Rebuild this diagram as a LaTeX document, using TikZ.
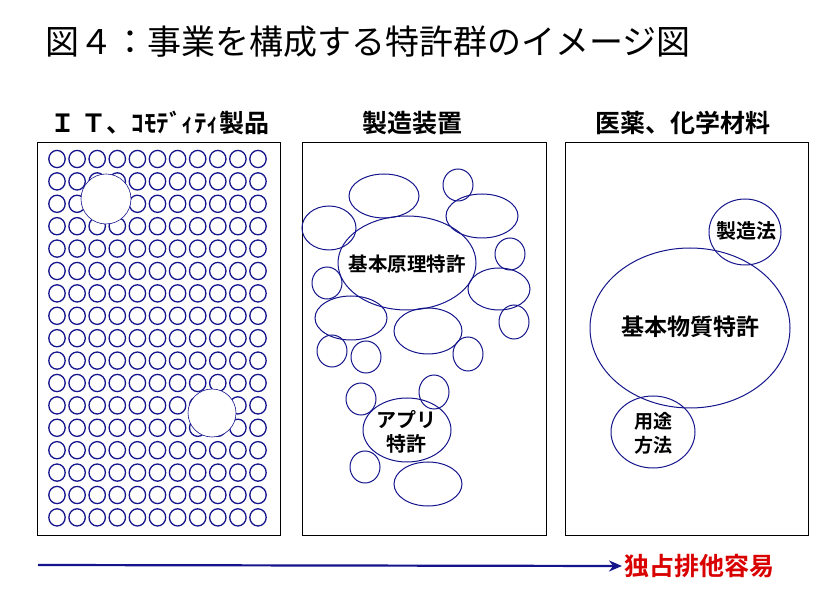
\documentclass[tikz,border=0pt]{standalone}
\usepackage{fontspec}
\usetikzlibrary{arrows.meta}
\setmainfont{Noto Sans CJK JP}[BoldFont={Noto Sans CJK JP Bold}]
\definecolor{nv}{RGB}{20,20,140}
\begin{document}
\begin{tikzpicture}[x=1pt,y=-1pt,
  pat/.style={draw=nv,line width=1pt},
  box/.style={draw=black,line width=0.8pt},
  lab/.style={font=\bfseries\fontsize{19.5}{22}\selectfont,align=center},
  hdr/.style={font=\bfseries\fontsize{25}{27}\selectfont}]
\useasboundingbox (0,0) rectangle (825,601);
\node[anchor=west,font=\fontsize{34}{36}\selectfont,inner sep=0pt] (title) at (45,42) {図４：事業を構成する特許群のイメージ図};
\node[hdr] (h1) at (160,123) {Ｉ Ｔ、ｺﾓﾃﾞｨﾃｨ製品};
\node[hdr] (h2) at (412,123) {製造装置};
\node[hdr] (h3) at (683,123) {医薬、化学材料};
\draw[box] (37,142) rectangle (280,535);
\draw[box] (302,142) rectangle (546,535);
\draw[box] (565,142) rectangle (808,535);
% left grid
\foreach \i in {0,...,10}{\foreach \j in {0,...,16}{
  \draw[pat,line width=1.3pt] (57+20.1*\i,159+22.4*\j) ellipse [x radius=8.2pt,y radius=8.6pt];}}
\draw[fill=white,draw=nv,line width=0.6pt] (106,199) circle [radius=25pt];
\draw[fill=white,draw=nv,line width=0.6pt] (212,413) circle [radius=24pt];
% middle
\foreach \x/\y/\a/\b in {384/196/35/22, 458/185/15/16, 482/216/36/22, 329/228/27/22,
  510/254/15/16, 327/283/15/16, 499/289/31/21, 351/318/36/22, 428/331/34/23, 514/322/15/17,
  332/351/15/16, 366/357/15/16, 468/354/15/17, 361/399/15/16, 434/392/15/17, 365/467/15/16, 428/484/34/22}{
  \draw[pat] (\x,\y) ellipse [x radius=\a pt,y radius=\b pt];}
\draw[pat] (407,263) ellipse [x radius=69pt,y radius=47pt];
\node[lab] (basic) at (407,264) {基本原理特許};
\draw[pat] (407,430) ellipse [x radius=44pt,y radius=32pt];
\node[lab,font=\bfseries\fontsize{20}{24}\selectfont] (app) at (406,432) {アプリ\\特許};
% right
\draw[pat] (690,328) ellipse [x radius=100pt,y radius=80pt];
\node[lab,font=\bfseries\fontsize{23}{26}\selectfont] (mat) at (690,327) {基本物質特許};
\draw[pat] (745,232) ellipse [x radius=36pt,y radius=33pt];
\node[lab,font=\bfseries\fontsize{20}{22}\selectfont] (proc) at (746,231) {製造法};
\draw[pat] (653,432) ellipse [x radius=42pt,y radius=36pt];
\node[lab,font=\bfseries\fontsize{19}{24}\selectfont] (use) at (653,433) {用途\\方法};
% arrow
\coordinate (a0) at (38,565);
\node[anchor=west,text=red!85!black,font=\bfseries\fontsize{25}{27}\selectfont,inner sep=2pt] (ex) at (622,566) {独占排他容易};
\draw[nv,line width=2.2pt,-{Stealth[length=13pt,width=11pt]}] (a0) -- (ex.west);
\end{tikzpicture}
\end{document}
